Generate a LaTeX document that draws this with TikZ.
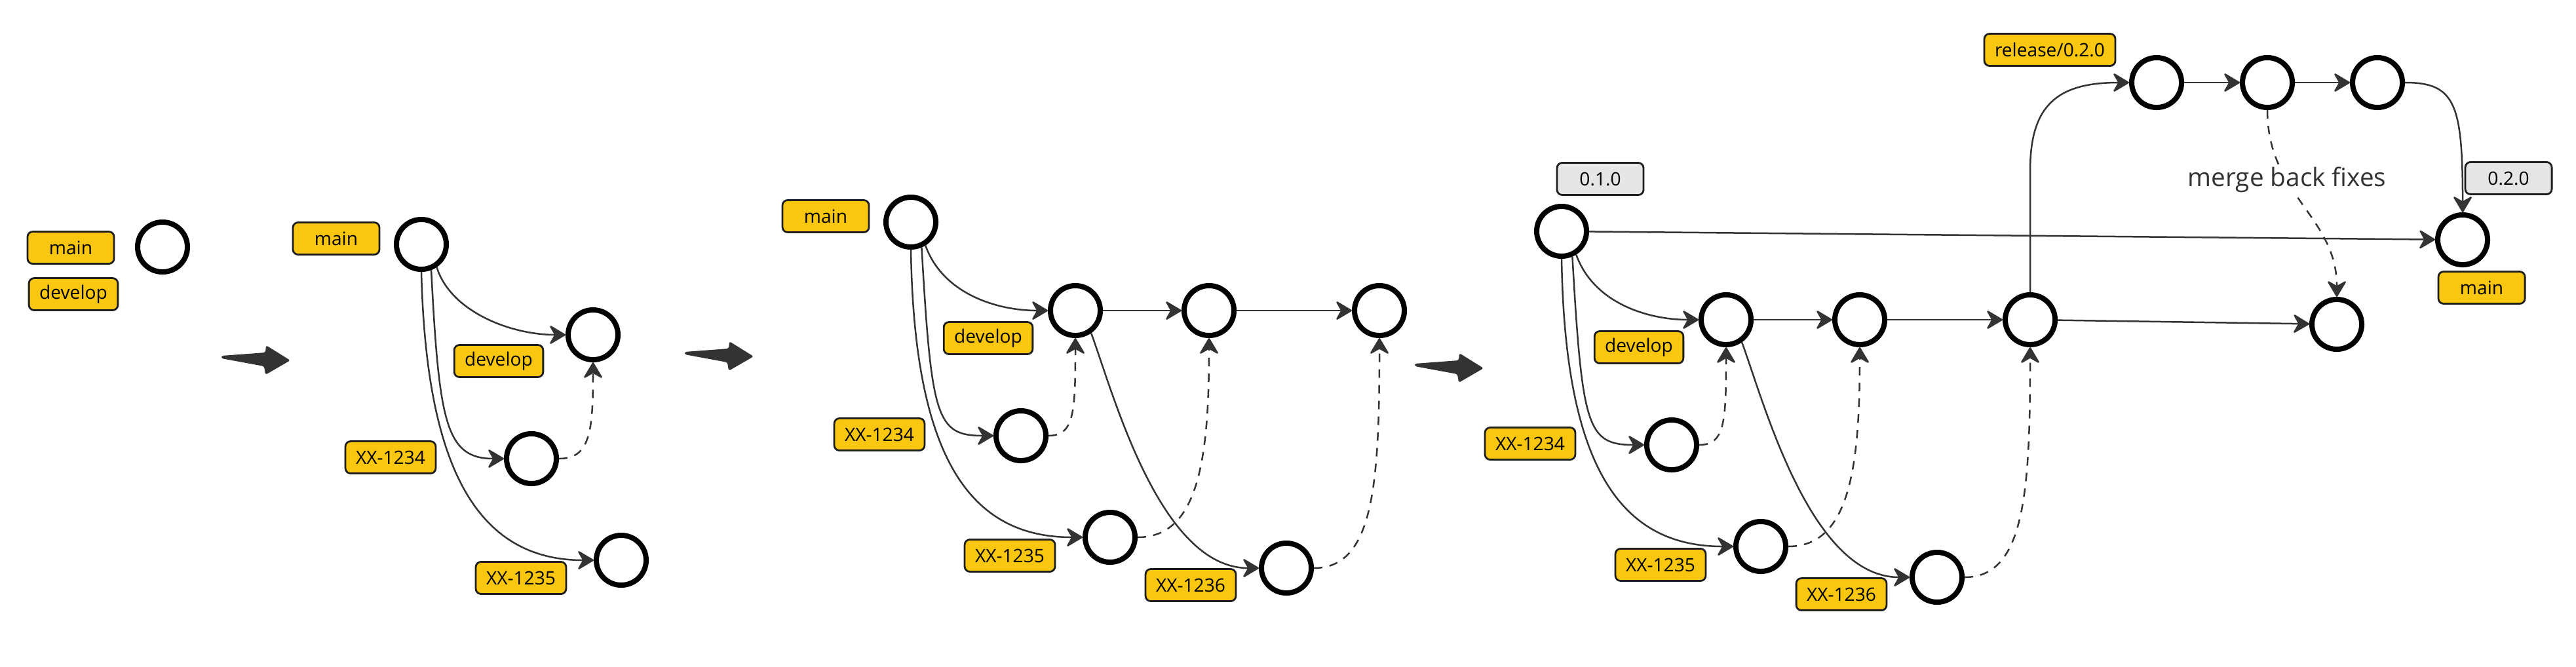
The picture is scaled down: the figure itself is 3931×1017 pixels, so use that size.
\documentclass[tikz,border=0pt]{standalone}
\usepackage{fontspec}
\setmainfont{Open Sans}
\usetikzlibrary{arrows.meta}
\definecolor{tagyellow}{RGB}{250,199,16}
\definecolor{taggray}{RGB}{230,230,230}
\definecolor{ink}{RGB}{51,51,51}
\definecolor{tagborder}{RGB}{30,30,30}
\newcommand\tagfont{\fontsize{8}{9.6}\selectfont}
\newcommand\notefont{\fontsize{11}{13}\selectfont}
\tikzset{
  commit/.style={circle, draw=black, line width=0.08cm, fill=white, minimum size=0.76cm, inner sep=0pt},
  tag/.style={draw=tagborder, fill=tagyellow, rounded corners=0.08cm, line width=0.028cm,
    minimum width=1.32cm, minimum height=0.49cm, inner xsep=0.16cm, inner ysep=0pt,
    font=\tagfont, text=black},
  graytag/.style={tag, fill=taggray},
  conn/.style={draw=ink, line width=0.025cm, ->},
  dconn/.style={conn, dash pattern=on 0.13cm off 0.11cm},
  note/.style={fill=white, inner sep=0.04cm, font=\notefont, text=ink},
  bigarrow/.pic={\fill[ink, rounded corners=0.03cm] (0,-2) -- (67,-7) -- (68,-18) -- (105,5) -- (67,27) -- (65,14) -- (0,2) -- cycle;}
}
\newcommand\featurepanel{%
  \node[commit] (m) at (1390,339) {};
  \node[commit] (d1) at (1641,474) {};
  \node[commit] (d2) at (1845,474) {};
  \node[commit] (d3) at (2105,474) {};
  \node[commit] (a) at (1558,665) {};
  \node[commit] (b) at (1694,820) {};
  \node[commit] (c) at (1963,867) {};
  \node[tag] (tdev) at (1508,516) {develop};
  \node[tag] (ta) at (1342,663) {XX-1234};
  \node[tag] (tb) at (1541,848) {XX-1235};
  \node[tag] (tc) at (1817,893) {XX-1236};
  \draw[conn] (m.-58) .. controls +(26,73) and +(-79,0) .. (d1.west);
  \draw[conn] (m.-67) .. controls +(15,261) and +(-87,0) .. (a.west);
  \draw[conn] (m.-90) .. controls +(5,318) and +(-172,0) .. (b.west);
  \draw[conn] (d1) -- (d2);
  \draw[conn] (d2) -- (d3);
  \draw[conn] (d1.-55) .. controls +(33,89) and +(-152,0) .. (c.west);
  \draw[dconn] (a.east) .. controls +(39,0) and +(0,114) .. (d1.south);
  \draw[dconn] (b.east) .. controls +(93,0) and +(0,184) .. (d2.south);
  \draw[dconn] (c.east) .. controls +(91,0) and +(0,224) .. (d3.south);
}
\begin{document}
\begin{tikzpicture}[x=0.01cm, y=-0.01cm, >={Stealth[length=0.27cm,width=0.32cm,inset=0.09cm,round]}]
\useasboundingbox (0,0) rectangle (3931,1017);
% panel 1
\node[commit] (p1m) at (248,377) {};
\node[tag] (p1tm) at (108,378) {main};
\node[tag] (p1td) at (112,449) {develop};
\pic (ba1) at (338,545) {bigarrow};
% panel 2
\node[commit] (p2m) at (643,373) {};
\node[commit] (p2d) at (905,511) {};
\node[commit] (p2a) at (811,700) {};
\node[commit] (p2b) at (948,855) {};
\node[tag] (p2tm) at (513,364) {main};
\node[tag] (p2td) at (761,551) {develop};
\node[tag] (p2ta) at (596,698) {XX-1234};
\node[tag] (p2tb) at (795,882) {XX-1235};
\draw[conn] (p2m.-56) .. controls +(21,68) and +(-83,0) .. (p2d.west);
\draw[conn] (p2m.-69) .. controls +(12,232) and +(-89,0) .. (p2a.west);
\draw[conn] (p2m.-90) .. controls +(7,282) and +(-187,0) .. (p2b.west);
\draw[dconn] (p2a.east) .. controls +(47,0) and +(0,107) .. (p2d.south);
\pic (ba2) at (1045,539) {bigarrow};
% panel 3
\begin{scope}[name prefix=p3-]
  \featurepanel
  \node[tag] (tm) at (1260,330) {main};
\end{scope}
\pic (ba3) at (2159,557) {bigarrow};
% panel 4
\begin{scope}[name prefix=p4-, shift={(993,14)}]
  \featurepanel
\end{scope}
\node[graytag] (t010) at (2442,273) {0.1.0};
\node[commit] (r1) at (3291,126) {};
\node[commit] (r2) at (3460,126) {};
\node[commit] (r3) at (3628,126) {};
\node[commit] (m2) at (3758,366) {};
\node[commit] (d4) at (3566,495) {};
\node[tag] (trel) at (3128,76) {release/0.2.0};
\node[graytag] (t020) at (3828,272) {0.2.0};
\node[tag] (tmain2) at (3787,439) {main};
\draw[conn] (p4-m) -- (m2);
\draw[conn] (p4-d3) -- (d4);
\draw[conn] (p4-d3.north) -- ++(0,-186) .. controls +(0,-100) and +(-109,0) .. (r1.west);
\draw[conn] (r1) -- (r2);
\draw[conn] (r2) -- (r3);
\draw[conn] (r3.east) .. controls +(77,0) and +(0,-165) .. (m2.north);
\draw[dconn] (r2.south) .. controls +(0,130) and +(0,-123) .. (d4.north);
\node[note] (mbf) at (3490,274) {merge back fixes};
\end{tikzpicture}
\end{document}
